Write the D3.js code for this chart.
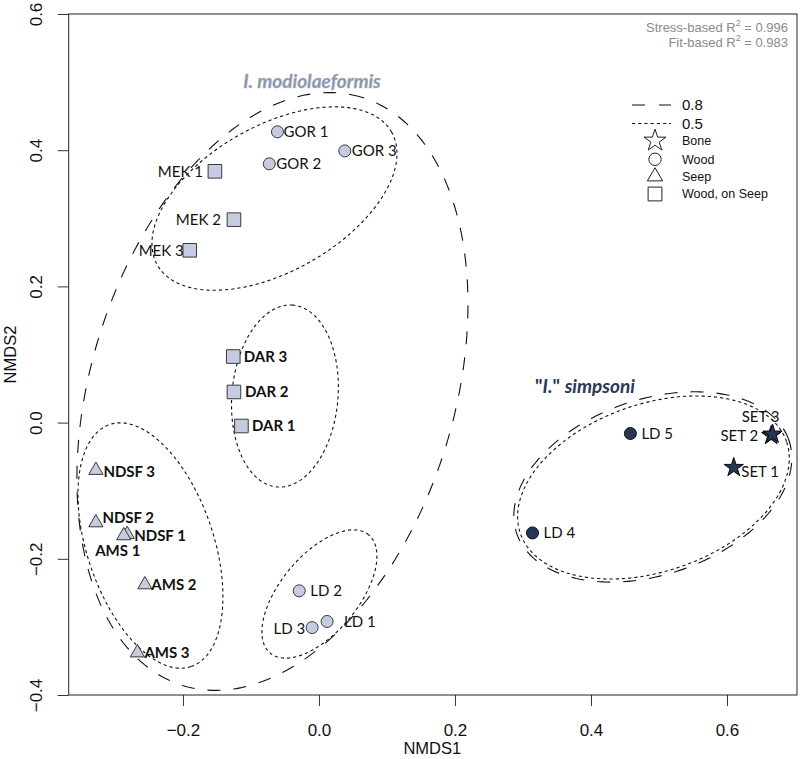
<!DOCTYPE html>
<html><head><meta charset="utf-8">
<script src="https://cdn.jsdelivr.net/npm/d3@7"></script>
<style>body{margin:0;background:#fff} svg{display:block}</style>
</head><body><svg id="chart" width="800" height="759"></svg>
<script>
// ---------------- data ----------------
const samples   = ["GOR 1","GOR 2","GOR 3","MEK 1","MEK 2","MEK 3","DAR 3","DAR 2","DAR 1",
                   "NDSF 3","NDSF 2","NDSF 1","AMS 1","AMS 2","AMS 3","LD 2","LD 3","LD 1",
                   "LD 5","LD 4","SET 1","SET 2","SET 3"];
const nmds1     = [-0.061,-0.073,0.038,-0.153,-0.125,-0.190,-0.126,-0.125,-0.114,
                   -0.328,-0.328,-0.282,-0.287,-0.256,-0.267,-0.029,-0.010,0.012,
                   0.458,0.314,0.610,0.665,0.667];
const nmds2     = [0.427,0.380,0.399,0.369,0.298,0.253,0.097,0.045,-0.005,
                   -0.070,-0.147,-0.164,-0.166,-0.238,-0.338,-0.247,-0.301,-0.292,
                   -0.016,-0.162,-0.066,-0.019,-0.017];
const substrate = ["Wood","Wood","Wood","Wood, on Seep","Wood, on Seep","Wood, on Seep",
                   "Wood, on Seep","Wood, on Seep","Wood, on Seep",
                   "Seep","Seep","Seep","Seep","Seep","Seep","Wood","Wood","Wood",
                   "Wood","Wood","Bone","Bone","Bone"];
const species   = ["mod","mod","mod","mod","mod","mod","mod","mod","mod",
                   "mod","mod","mod","mod","mod","mod","mod","mod","mod",
                   "simp","simp","simp","simp","simp"];
const boldLabel = ["DAR 3","DAR 2","DAR 1","NDSF 3","NDSF 2","NDSF 1","AMS 1","AMS 2","AMS 3"];

// ellipses (data units): similarity level, centre, semi-axes, rotation (deg)
const ellLevel = ["0.8","0.8","0.5","0.5","0.5","0.5","0.5"];
const ellCx    = [-0.0684, 0.491, -0.0654, -0.050, -0.2478, 0.0007, 0.4919];
const ellCy    = [ 0.0457,-0.0945, 0.329,  0.039, -0.1805,-0.2517,-0.0953];
const ellA     = [ 0.4515, 0.2115, 0.198,  0.134,  0.1875, 0.1131, 0.207];
const ellB     = [ 0.2674, 0.1287, 0.1068, 0.078,  0.0931, 0.0569, 0.123];
const ellAng   = [ 73.1,  18.9,   29.5,   85,    -71.4,   50.2,   19];

const xTicks = [-0.2, 0.0, 0.2, 0.4, 0.6];
const yTicks = [-0.4, -0.2, 0.0, 0.2, 0.4, 0.6];
const legendLevels = ["0.8","0.5"];
const legendSubstrates = ["Bone","Wood","Seep","Wood, on Seep"];
const stressR2 = "0.996", fitR2 = "0.983";

// ---------------- layout (label placement, px) ----------------
const labelLayout = {
  "GOR 1":[6,0,"start"],"GOR 2":[7,0,"start"],"GOR 3":[7,0,"start"],
  "MEK 1":[-12,0,"end"],"MEK 2":[-13,0,"end"],"MEK 3":[-6,0,"end"],
  "DAR 3":[10.5,0,"start"],"DAR 2":[11,0,"start"],"DAR 1":[10.5,0,"start"],
  "NDSF 3":[7.5,1,"start"],"NDSF 2":[6.5,-5,"start"],"NDSF 1":[7,1,"start"],
  "AMS 1":[-6,15,"middle"],"AMS 2":[6.5,0,"start"],"AMS 3":[7,0,"start"],
  "LD 2":[11,0,"start"],"LD 3":[-7,1,"end"],"LD 1":[17,0,"start"],
  "LD 5":[11,0,"start"],"LD 4":[11,0,"start"],
  "SET 1":[7.5,4.5,"start"],"SET 2":[-13,0,"end"],"SET 3":[-12,-17,"middle"]
};

// ---------------- chart ----------------
const svg = d3.select("#chart");
const L = 68.7, R = 797, T = 14, B = 695;
const x = d3.scaleLinear().domain([-0.368, 0.703]).range([L, R]);
const y = d3.scaleLinear().domain([-0.4, 0.6]).range([B, T]);
const axisFont = "'Liberation Sans', Arial, sans-serif";
const labFont = "Lato, 'Open Sans', sans-serif";
const lightFill = "#c5cce2", darkFill = "#263655";

// axes
const fmt = d => d3.format(".1f")(d);
const xAxis = svg.append("g").attr("transform", `translate(0,${B})`)
  .call(d3.axisBottom(x).tickValues(xTicks).tickSize(11).tickFormat(fmt));
xAxis.select(".domain").remove();
xAxis.selectAll("line").attr("stroke", "#333");
xAxis.selectAll("text").attr("y", 40.5).attr("dy", 0)
  .attr("font-family", axisFont).attr("font-size", 17).attr("fill", "#111");

const yAxis = svg.append("g").attr("transform", `translate(${L},0)`)
  .call(d3.axisLeft(y).tickValues(yTicks).tickSize(11).tickFormat(fmt));
yAxis.select(".domain").remove();
yAxis.selectAll("line").attr("stroke", "#333");
yAxis.selectAll("text").attr("x", 0).attr("dy", 0).attr("y", -27)
  .attr("transform", "rotate(-90)").attr("text-anchor", "middle")
  .attr("font-family", axisFont).attr("font-size", 17).attr("fill", "#111");

svg.append("text").attr("x", (L + R) / 2 - 0.5).attr("y", 754).attr("text-anchor", "middle")
  .attr("font-family", axisFont).attr("font-size", 16.5).attr("fill", "#111").text("NMDS1");
svg.append("text").attr("transform", `translate(16,${(T + B) / 2}) rotate(-90)`)
  .attr("text-anchor", "middle").attr("font-family", axisFont).attr("font-size", 16.5)
  .attr("fill", "#111").text("NMDS2");

// plot box
svg.append("rect").attr("x", L).attr("y", T).attr("width", R - L).attr("height", B - T)
  .attr("fill", "none").attr("stroke", "#222").attr("stroke-width", 1);

// ellipses
const dashFor = lv => lv === "0.8" ? "13,13" : "3.2,3";
const line = d3.line().x(d => x(d[0])).y(d => y(d[1])).curve(d3.curveLinearClosed);
ellLevel.forEach((lv, i) => {
  const th = ellAng[i] * Math.PI / 180, pts = [];
  for (let k = 0; k < 240; k++) {
    const t = 2 * Math.PI * k / 240;
    const u = ellA[i] * Math.cos(t), v = ellB[i] * Math.sin(t);
    pts.push([ellCx[i] + u * Math.cos(th) - v * Math.sin(th),
              ellCy[i] + u * Math.sin(th) + v * Math.cos(th)]);
  }
  svg.append("path").attr("d", line(pts)).attr("fill", "none").attr("stroke", "#111")
    .attr("stroke-width", 1.1).attr("stroke-dasharray", dashFor(lv));
});

// symbols
const symType = {"Bone": d3.symbolStar, "Wood": d3.symbolCircle, "Seep": d3.symbolTriangle, "Wood, on Seep": d3.symbolSquare};
const symSize = {"Bone": 115, "Wood": 113, "Seep": 88, "Wood, on Seep": 185};

const pts = samples.map((s, i) => ({name: s, x: nmds1[i], y: nmds2[i], sub: substrate[i], sp: species[i]}));
svg.append("g").selectAll("path").data(pts).join("path")
  .attr("transform", d => `translate(${x(d.x)},${y(d.y)})`)
  .attr("d", d => d3.symbol(symType[d.sub], symSize[d.sub])())
  .attr("fill", d => d.sp === "simp" ? darkFill : lightFill)
  .attr("stroke", d => d.sp === "simp" ? "#0d0d0d" : "#3a3a3a").attr("stroke-width", 1);

svg.append("g").selectAll("text").data(pts).join("text")
  .attr("x", d => x(d.x) + labelLayout[d.name][0])
  .attr("y", d => y(d.y) + labelLayout[d.name][1])
  .attr("dy", "0.35em").attr("text-anchor", d => labelLayout[d.name][2])
  .attr("font-family", labFont).attr("font-size", 15)
  .attr("font-weight", d => boldLabel.includes(d.name) ? "bold" : "normal")
  .attr("fill", "#111").text(d => d.name);

// group labels
svg.append("text").attr("x", 312).attr("y", 88).attr("text-anchor", "middle")
  .attr("font-family", labFont).attr("font-size", 19).attr("font-weight", "bold")
  .attr("font-style", "italic").attr("fill", "#8b94ab")
  .attr("stroke", "#aab2c6").attr("stroke-width", 0.4).text("I. modiolaeformis");
const simpLab = svg.append("text").attr("x", 585).attr("y", 393).attr("text-anchor", "middle")
  .attr("font-family", labFont).attr("font-size", 19).attr("font-weight", "bold").attr("fill", "#2b3855");
simpLab.append("tspan").text("\"");
simpLab.append("tspan").attr("font-style", "italic").text("I.");
simpLab.append("tspan").text("\" ");
simpLab.append("tspan").attr("font-style", "italic").text("simpsoni");

// R² text
[["Stress-based R", stressR2, 32], ["Fit-based R", fitR2, 47]].forEach(([lab, val, yy]) => {
  const t = svg.append("text").attr("x", 788).attr("y", yy).attr("text-anchor", "end")
    .attr("font-family", axisFont).attr("font-size", 13).attr("fill", "#8a8a8a");
  t.append("tspan").text(lab);
  t.append("tspan").attr("dy", -6).attr("font-size", 9).text("2");
  t.append("tspan").attr("dy", 6).text(" = " + val);
});

// legend
const lg = svg.append("g");
legendLevels.forEach((lv, i) => {
  const yy = 105 + i * 18.5;
  lg.append("line").attr("x1", 632).attr("x2", 671).attr("y1", yy).attr("y2", yy)
    .attr("stroke", "#111").attr("stroke-width", 1.1)
    .attr("stroke-dasharray", lv === "0.8" ? "13,14" : "3.2,3");
  lg.append("text").attr("x", 682).attr("y", yy).attr("dy", "0.35em")
    .attr("font-family", axisFont).attr("font-size", 15).attr("fill", "#111").text(lv);
});
const legY = [140.7, 159.3, 176.5, 194];
legendSubstrates.forEach((s, i) => {
  lg.append("path").attr("transform", `translate(655,${legY[i]})`)
    .attr("d", d3.symbol(symType[s], s === "Bone" ? 150 : s === "Wood, on Seep" ? 190 : s === "Seep" ? 100 : 120)())
    .attr("fill", "none").attr("stroke", "#222").attr("stroke-width", 1);
  lg.append("text").attr("x", 682).attr("y", legY[i]).attr("dy", "0.35em")
    .attr("font-family", axisFont).attr("font-size", 12.5).attr("fill", "#111").text(s);
});
</script></body></html>
